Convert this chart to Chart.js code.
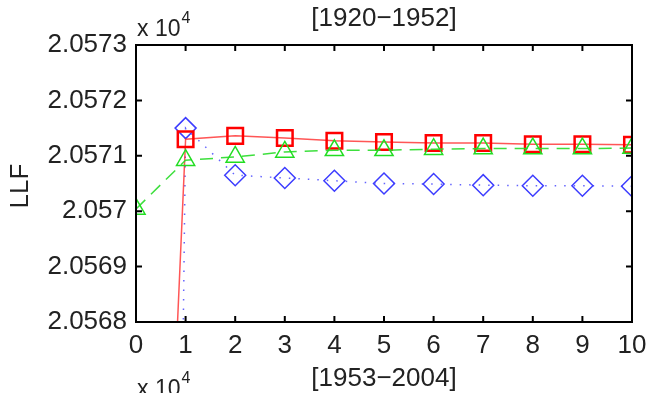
<!DOCTYPE html>
<html>
<head>
<meta charset="utf-8">
<script src="https://cdn.jsdelivr.net/npm/chart.js@4.4.1/dist/chart.umd.min.js"></script>
<style>
  html, body { margin: 0; padding: 0; background: #ffffff; }
  #wrap { width: 650px; height: 393px; position: relative; }
</style>
</head>
<body>
<div id="wrap"><canvas id="llfChart" width="650" height="393"></canvas></div>
<script>
// iterations (x) and log-likelihood values in units of 10^4
const iterations = [0, 1, 2, 3, 4, 5, 6, 7, 8, 9, 10];
const llfSquares = [2.0551, 2.05713, 2.057136, 2.057132, 2.057127, 2.057125, 2.057123, 2.057123, 2.057121, 2.057121, 2.05712];
const llfDiamonds = [2.0495, 2.05715, 2.057065, 2.05706, 2.057055, 2.05705, 2.057049, 2.057047, 2.057046, 2.057046, 2.057045];
const llfTriangles = [2.057004, 2.057092, 2.057098, 2.057107, 2.05711, 2.05711, 2.057112, 2.057113, 2.057113, 2.057113, 2.057114];

const yTickValues = [2.0568, 2.0569, 2.057, 2.0571, 2.0572, 2.0573];
const yTickLabels = ['2.0568', '2.0569', '2.057', '2.0571', '2.0572', '2.0573'];
const xTickValues = [0, 1, 2, 3, 4, 5, 6, 7, 8, 9, 10];

const topTitle = '[1920\u22121952]';
const bottomTitle = '[1953\u22122004]';
const yTitle = 'LLF';

const FONT = '"Liberation Sans", Arial, sans-serif';
const TEXT = '#222222';

const toPoints = (ys) => iterations.map((x, i) => ({ x: x, y: ys[i] }));

// frame, inward tick marks and the loose texts (matlab style)
const framePlugin = {
  id: 'frame',
  afterDatasetsDraw(chart) {
    const { ctx, chartArea: a, scales } = chart;
    const len = 6;
    ctx.save();
    ctx.strokeStyle = '#000000';
    ctx.lineWidth = 2;
    ctx.strokeRect(a.left, a.top, a.right - a.left, a.bottom - a.top);
    ctx.beginPath();
    xTickValues.forEach((v) => {
      const px = scales.x.getPixelForValue(v);
      ctx.moveTo(px, a.bottom); ctx.lineTo(px, a.bottom - len);
      ctx.moveTo(px, a.top); ctx.lineTo(px, a.top + len);
    });
    yTickValues.forEach((v) => {
      const py = scales.y.getPixelForValue(v);
      ctx.moveTo(a.left, py); ctx.lineTo(a.left + len, py);
      ctx.moveTo(a.right, py); ctx.lineTo(a.right - len, py);
    });
    ctx.stroke();
    ctx.restore();
  },
  afterDraw(chart) {
    const { ctx, chartArea: a } = chart;
    const cx = (a.left + a.right) / 2;
    ctx.save();
    ctx.fillStyle = TEXT;
    ctx.textBaseline = 'middle';
    ctx.textAlign = 'center';
    ctx.font = '26px ' + FONT;
    ctx.fillText(topTitle, cx, 19);
    ctx.fillText(bottomTitle, cx, 379);

    // exponent labels
    const drawExp = (x, y) => {
      ctx.textAlign = 'left';
      ctx.font = '23px ' + FONT;
      ctx.fillText('x 10', x, y);
      const w = ctx.measureText('x 10').width;
      ctx.font = '16px ' + FONT;
      ctx.fillText('4', x + w + 1, y - 11);
    };
    drawExp(a.left + 1, 30);
    drawExp(a.left + 1, 390);

    ctx.translate(21, 186);
    ctx.rotate(-Math.PI / 2);
    ctx.textAlign = 'center';
    ctx.font = '26px ' + FONT;
    ctx.fillText(yTitle, 0, 0);
    ctx.restore();
  }
};

const ctx = document.getElementById('llfChart').getContext('2d');

const myChart = new Chart(ctx, {
  type: 'line',
  data: {
    datasets: [
      {
        label: 'triangles',
        data: toPoints(llfTriangles),
        borderColor: 'rgba(40, 220, 40, 0.9)',
        borderWidth: 1.5,
        borderDash: [13, 8],
        pointStyle: 'triangle',
        pointRadius: 10.5,
        pointBorderWidth: 1.5,
        pointBorderColor: '#22dd22',
        pointBackgroundColor: 'rgba(0,0,0,0)'
      },
      {
        label: 'squares',
        data: toPoints(llfSquares),
        borderColor: 'rgba(255, 30, 30, 0.75)',
        borderWidth: 1.5,
        pointStyle: 'rect',
        pointRadius: 11,
        pointBorderWidth: 2.5,
        pointBorderColor: '#ff0000',
        pointBackgroundColor: 'rgba(0,0,0,0)'
      },
      {
        label: 'diamonds',
        data: toPoints(llfDiamonds),
        borderColor: 'rgba(60, 60, 255, 0.8)',
        borderWidth: 1.5,
        borderDash: [1.5, 8],
        pointStyle: 'rectRot',
        pointRadius: 10.5,
        pointBorderWidth: 1.5,
        pointBorderColor: '#3c3cff',
        pointBackgroundColor: 'rgba(0,0,0,0)'
      }
    ]
  },
  options: {
    responsive: false,
    animation: false,
    events: [],
    layout: { padding: { top: 45, right: 18, left: 0, bottom: 0 } },
    scales: {
      x: {
        type: 'linear',
        min: 0,
        max: 10,
        afterBuildTicks: (scale) => { scale.ticks = xTickValues.map((v) => ({ value: v })); },
        afterFit: (scale) => {
          scale.height = 71;
          // let the "10" label hang past the frame like matlab does
          scale.paddingLeft = 0;
          scale.paddingRight = 0;
        },
        grid: { display: false, drawTicks: false },
        border: { display: false },
        ticks: {
          padding: 8,
          maxRotation: 0,
          color: TEXT,
          font: { size: 26, family: FONT }
        }
      },
      y: {
        type: 'linear',
        min: 2.0568,
        max: 2.0573,
        afterBuildTicks: (scale) => { scale.ticks = yTickValues.map((v) => ({ value: v })); },
        afterFit: (scale) => {
          scale.width = 136;
          scale.paddingTop = 0;
          scale.paddingBottom = 0;
        },
        grid: { display: false, drawTicks: false },
        border: { display: false },
        ticks: {
          padding: 9,
          color: TEXT,
          font: { size: 26, family: FONT },
          callback: (value) => {
            const i = yTickValues.findIndex((v) => Math.abs(v - value) < 1e-9);
            return i >= 0 ? yTickLabels[i] : '';
          }
        }
      }
    },
    plugins: {
      legend: { display: false },
      tooltip: { enabled: false }
    }
  },
  plugins: [framePlugin]
});
</script>
</body>
</html>
